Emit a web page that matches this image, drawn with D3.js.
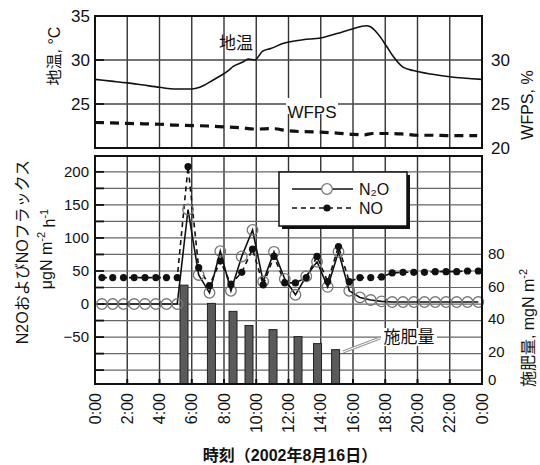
<!DOCTYPE html>
<html>
<head>
<meta charset="utf-8">
<script src="https://cdn.jsdelivr.net/npm/d3@7"></script>
<style>
  body { margin: 0; background: #fff; }
  svg text { font-family: "Liberation Sans", Arial, "Noto Sans CJK JP", sans-serif; fill: #111; }
</style>
</head>
<body>
<svg id="chart" width="540" height="465"></svg>
<script>
// --- soil temperature (地温), °C
const tempHours  = [0, 1, 2, 3, 4, 5, 6, 6.5, 7.3, 8.2, 8.6, 9.2, 9.5, 9.9, 10.4, 10.9, 11.7, 12.9, 14, 15, 15.9, 16.85, 17.05, 17.7, 18.1, 18.5, 19.1, 19.75, 20.8, 22, 24];
const tempValues = [27.8, 27.6, 27.4, 27.15, 26.9, 26.7, 26.7, 26.9, 27.7, 28.7, 29.3, 29.8, 30.1, 30.0, 31.0, 31.3, 31.9, 32.3, 32.5, 33.0, 33.5, 33.9, 33.8, 32.6, 31.5, 30.4, 29.2, 28.8, 28.4, 28.1, 27.8];

// --- WFPS, %
const wfpsHours  = [0, 1, 2, 3, 4, 5, 6, 7, 8, 9, 10, 11, 12, 13, 14, 15, 16, 16.7, 17.2, 18, 19, 20, 21, 22, 23.7];
const wfpsValues = [22.9, 22.85, 22.8, 22.75, 22.7, 22.6, 22.55, 22.5, 22.4, 22.3, 22.15, 22.2, 21.95, 21.85, 21.8, 21.7, 21.55, 21.5, 21.65, 21.65, 21.6, 21.45, 21.45, 21.4, 21.4];

// --- N2O and NO flux, μgN m-2 h-1 (every 40 min)
const fluxHours = [0.43, 1.10, 1.77, 2.43, 3.10, 3.77, 4.43, 5.10, 5.77, 6.43, 7.10, 7.77, 8.43, 9.10, 9.77, 10.43, 11.10, 11.77,
                   12.43, 13.10, 13.77, 14.43, 15.10, 15.77, 16.43, 17.10, 17.77, 18.43, 19.10, 19.77, 20.43, 21.10, 21.77, 22.43, 23.10, 23.77];
const n2oFlux = [0, 0, 0, 0, 0, 0, 0, 0, 143, 44, 17, 80, 20, 72, 112, 34, 79, 38,
                 14, 42, 64, 26, 79, 20, 10, 6, 4, 3, 3, 3, 3, 3, 3, 3, 3, 3];
const noFlux  = [40, 40, 40, 40, 40, 40, 40, 40, 208, 55, 28, 65, 30, 48, 83, 29, 72, 32,
                 32, 40, 72, 34, 87, 34, 40, 40, 41, 47, 48, 48, 48, 49, 49, 49, 50, 50];

// --- fertilizer (施肥量), mgN m-2
const fertHours  = [5.52, 7.22, 8.56, 9.55, 11.04, 12.59, 13.8, 14.92];
const fertAmount = [60.7, 49.5, 44.6, 35.9, 33.4, 29.1, 24.8, 21.1];

// --- axis ticks
const timeTicks  = [0, 2, 4, 6, 8, 10, 12, 14, 16, 18, 20, 22, 24];
const timeLabels = ["0:00", "2:00", "4:00", "6:00", "8:00", "10:00", "12:00", "14:00", "16:00", "18:00", "20:00", "22:00", "0:00"];
const tempTicks  = [35, 30, 25];
const wfpsTicks  = [30, 25, 20];
const fluxTicks  = [-50, 0, 50, 100, 150, 200];
const fluxGrid   = [-100, -75, -50, -25, 0, 25, 50, 75, 100, 125, 150, 175, 200];
const fertTicks  = [0, 20, 40, 60, 80];

const svg = d3.select("#chart");

const left = 95, right = 482;
const top1 = 16, bot1 = 148;   // upper panel
const top2 = 156, bot2 = 384;  // lower panel

const x = d3.scaleLinear().domain([0, 24]).range([left, right]);
const yT = d3.scaleLinear().domain([20, 35]).range([bot1, top1]);
const yF = d3.scaleLinear().domain([-121, 224]).range([bot2, top2]);
const yR = d3.scaleLinear().domain([0, 140]).range([bot2, top2]);

// ---------- grid lines
function vgrid(y0, y1) {
  svg.append("g").selectAll("line")
    .data(timeTicks.slice(1, -1))
    .join("line")
      .attr("x1", d => x(d)).attr("x2", d => x(d))
      .attr("y1", y0).attr("y2", y1)
      .attr("stroke", "#333").attr("stroke-width", 1.4);
}
vgrid(top1, bot1);
vgrid(top2, bot2);

svg.append("g").selectAll("line")
  .data([30, 25])
  .join("line")
    .attr("x1", left).attr("x2", right)
    .attr("y1", d => yT(d)).attr("y2", d => yT(d))
    .attr("stroke", "#444").attr("stroke-width", 1.4);

svg.append("g").selectAll("line")
  .data(fluxGrid)
  .join("line")
    .attr("x1", left).attr("x2", right)
    .attr("y1", d => yF(d)).attr("y2", d => yF(d))
    .attr("stroke", "#666").attr("stroke-width", 1.2);

// inward tick marks (left side)
svg.append("g").selectAll("line")
  .data(fluxGrid)
  .join("line")
    .attr("x1", left).attr("x2", left + 9)
    .attr("y1", d => yF(d)).attr("y2", d => yF(d))
    .attr("stroke", "#111").attr("stroke-width", 1.8);
svg.append("g").selectAll("line")
  .data([30, 25])
  .join("line")
    .attr("x1", left).attr("x2", left + 9)
    .attr("y1", d => yT(d)).attr("y2", d => yT(d))
    .attr("stroke", "#111").attr("stroke-width", 1.8);
// bottom ticks
svg.append("g").selectAll("line")
  .data(timeTicks)
  .join("line")
    .attr("x1", d => x(d)).attr("x2", d => x(d))
    .attr("y1", bot2).attr("y2", bot2 - 5)
    .attr("stroke", "#111").attr("stroke-width", 2);

// ---------- fertilizer bars
svg.append("g").selectAll("rect")
  .data(fertHours)
  .join("rect")
    .attr("x", d => x(d) - 4)
    .attr("width", 8)
    .attr("y", (d, i) => yR(fertAmount[i]))
    .attr("height", (d, i) => yR(0) - yR(fertAmount[i]))
    .attr("fill", "#5a5a5a")
    .attr("stroke", "#222")
    .attr("stroke-width", 1);

// ---------- upper panel lines
const tempLine = d3.line().x(d => x(d[0])).y(d => yT(d[1])).curve(d3.curveMonotoneX);
svg.append("path")
  .datum(tempHours.map((h, i) => [h, tempValues[i]]))
  .attr("d", tempLine)
  .attr("fill", "none").attr("stroke", "#111").attr("stroke-width", 1.6);

svg.append("path")
  .datum(wfpsHours.map((h, i) => [h, wfpsValues[i]]))
  .attr("d", tempLine)
  .attr("fill", "none").attr("stroke", "#111").attr("stroke-width", 3.2)
  .attr("stroke-dasharray", "9,6");

// ---------- flux lines
const fluxLine = d3.line().x(d => x(d[0])).y(d => yF(d[1]));
svg.append("path")
  .datum(fluxHours.map((h, i) => [h, noFlux[i]]))
  .attr("d", fluxLine)
  .attr("fill", "none").attr("stroke", "#111").attr("stroke-width", 1.6)
  .attr("stroke-dasharray", "5,4");
svg.append("path")
  .datum(fluxHours.map((h, i) => [h, n2oFlux[i]]))
  .attr("d", fluxLine)
  .attr("fill", "none").attr("stroke", "#111").attr("stroke-width", 1.6);

svg.append("g").selectAll("circle")
  .data(fluxHours)
  .join("circle")
    .attr("cx", d => x(d))
    .attr("cy", (d, i) => yF(n2oFlux[i]))
    .attr("r", 5.3)
    .attr("fill", "none")
    .attr("stroke", "#777").attr("stroke-width", 1.3);
svg.append("g").selectAll("circle")
  .data(fluxHours)
  .join("circle")
    .attr("cx", d => x(d))
    .attr("cy", (d, i) => yF(noFlux[i]))
    .attr("r", 3.6)
    .attr("fill", "#111");

// ---------- frames
svg.append("rect").attr("x", left).attr("y", top1).attr("width", right - left).attr("height", bot1 - top1)
  .attr("fill", "none").attr("stroke", "#111").attr("stroke-width", 2);
svg.append("rect").attr("x", left).attr("y", top2).attr("width", right - left).attr("height", bot2 - top2)
  .attr("fill", "none").attr("stroke", "#111").attr("stroke-width", 2);

// ---------- tick labels
svg.append("g").selectAll("text")
  .data(tempTicks)
  .join("text")
    .attr("x", 90).attr("y", d => yT(d)).attr("dy", "0.35em")
    .attr("text-anchor", "end").attr("font-size", 17)
    .text(d => d);
svg.append("g").selectAll("text")
  .data(wfpsTicks)
  .join("text")
    .attr("x", 491).attr("y", d => yT(d)).attr("dy", "0.35em")
    .attr("font-size", 17)
    .text(d => d);
svg.append("g").selectAll("text")
  .data(fluxTicks)
  .join("text")
    .attr("x", 89).attr("y", d => yF(d)).attr("dy", "0.35em")
    .attr("text-anchor", "end").attr("font-size", 15)
    .text(d => d < 0 ? "\u2212" + Math.abs(d) : d);
svg.append("g").selectAll("text")
  .data(fertTicks)
  .join("text")
    .attr("x", 488).attr("y", d => Math.min(yR(d), 380)).attr("dy", "0.35em")
    .attr("font-size", 15)
    .text(d => d);

svg.append("g").selectAll("text")
  .data(timeTicks)
  .join("text")
    .attr("transform", d => `translate(${x(d)},393) rotate(-90)`)
    .attr("dy", "0.35em")
    .attr("text-anchor", "end").attr("font-size", 16)
    .text((d, i) => timeLabels[i]);

// ---------- axis titles
svg.append("text")
  .attr("transform", "translate(54,56) rotate(-90)")
  .attr("dy", "0.35em").attr("text-anchor", "middle").attr("font-size", 16)
  .text("地温, °C");
svg.append("text")
  .attr("transform", "translate(527,105) rotate(-90)")
  .attr("dy", "0.35em").attr("text-anchor", "middle").attr("font-size", 16)
  .text("WFPS, %");
svg.append("text")
  .attr("transform", "translate(22,252) rotate(-90)")
  .attr("dy", "0.35em").attr("text-anchor", "middle").attr("font-size", 16)
  .text("N2OおよびNOフラックス");

const unit = svg.append("text")
  .attr("transform", "translate(46,249) rotate(-90)")
  .attr("dy", "0.35em").attr("text-anchor", "middle").attr("font-size", 16);
unit.append("tspan").text("μgN m");
unit.append("tspan").attr("font-size", 11).attr("dy", "-0.6em").text("-2");
unit.append("tspan").attr("dy", "0.6em").text(" h");
unit.append("tspan").attr("font-size", 11).attr("dy", "-0.6em").text("-1");

const fertTitle = svg.append("text")
  .attr("transform", "translate(528,328) rotate(-90)")
  .attr("dy", "0.35em").attr("text-anchor", "middle").attr("font-size", 16);
fertTitle.append("tspan").text("施肥量, mgN m");
fertTitle.append("tspan").attr("font-size", 11).attr("dy", "-0.6em").text("-2");

svg.append("text")
  .attr("x", 290).attr("y", 461)
  .attr("text-anchor", "middle").attr("font-size", 16).attr("font-weight", "bold")
  .text("時刻（2002年8月16日）");

// ---------- in-plot labels
svg.append("text")
  .attr("x", 236).attr("y", 49).attr("text-anchor", "middle").attr("font-size", 17)
  .text("地温");
svg.append("rect").attr("x", 286).attr("y", 98).attr("width", 52).attr("height", 16).attr("fill", "#fff");
svg.append("text")
  .attr("x", 312).attr("y", 118).attr("text-anchor", "middle").attr("font-size", 17)
  .text("WFPS");

// fertilizer annotation
svg.append("line")
  .attr("x1", 380).attr("y1", 338).attr("x2", 343).attr("y2", 352)
  .attr("stroke", "#999").attr("stroke-width", 3);
svg.append("line")
  .attr("x1", 380).attr("y1", 338).attr("x2", 343).attr("y2", 352)
  .attr("stroke", "#fff").attr("stroke-width", 1);
svg.append("rect").attr("x", 381).attr("y", 328).attr("width", 56).attr("height", 18).attr("fill", "#fff");
svg.append("text")
  .attr("x", 409).attr("y", 343).attr("text-anchor", "middle").attr("font-size", 17)
  .text("施肥量");

// ---------- legend
const lg = svg.append("g").attr("transform", "translate(279,172)");
lg.append("rect").attr("x", 3).attr("y", 3).attr("width", 128).attr("height", 54).attr("fill", "#111");
lg.append("rect").attr("width", 128).attr("height", 54).attr("fill", "#fff")
  .attr("stroke", "#111").attr("stroke-width", 1.5);
lg.append("line").attr("x1", 13).attr("x2", 74).attr("y1", 17).attr("y2", 17)
  .attr("stroke", "#111").attr("stroke-width", 1.5);
lg.append("circle").attr("cx", 48).attr("cy", 17).attr("r", 5.3)
  .attr("fill", "#fff").attr("stroke", "#777").attr("stroke-width", 1.3);
lg.append("line").attr("x1", 13).attr("x2", 74).attr("y1", 36).attr("y2", 36)
  .attr("stroke", "#111").attr("stroke-width", 1.5).attr("stroke-dasharray", "5,4");
lg.append("circle").attr("cx", 48).attr("cy", 36).attr("r", 3.6).attr("fill", "#111");

lg.append("text").attr("x", 80).attr("y", 17).attr("dy", "0.35em").attr("font-size", 16).text("N₂O");
lg.append("text").attr("x", 80).attr("y", 36).attr("dy", "0.35em").attr("font-size", 16).text("NO");
</script>
</body>
</html>
